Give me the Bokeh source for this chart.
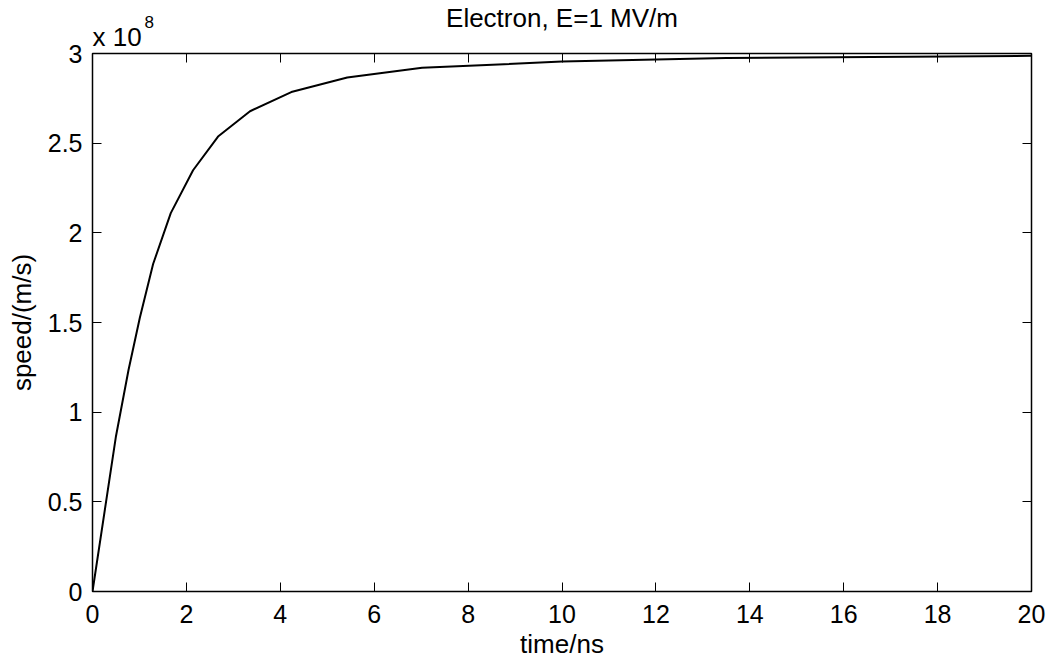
from bokeh.plotting import figure
from bokeh.models import LinearAxis, FixedTicker, CustomJSTickFormatter, Range1d, Title
from bokeh.embed import file_html
from bokeh.resources import INLINE

# Data
time_ns = [0.0, 0.50, 0.766, 1.007, 1.291, 1.667, 2.142, 2.674, 3.355, 4.234, 5.426, 7.02, 10.0, 13.5, 20.0]
speed_1e8_ms = [0.0, 0.866, 1.234, 1.525, 1.826, 2.110, 2.349, 2.537, 2.678, 2.785, 2.866, 2.92, 2.955, 2.975, 2.987]

x_ticks = [0, 2, 4, 6, 8, 10, 12, 14, 16, 18, 20]
y_ticks = [0, 0.5, 1, 1.5, 2, 2.5, 3]

title_text = "Electron, E=1 MV/m"
x_label = "time/ns"
y_label = "speed/(m/s)"
exponent_base = "x 10"
exponent_power = "8"

FONT = "Liberation Sans"
FS = "26px"
TICK_FS = "25px"

p = figure(width=1054, height=661, output_backend="svg", toolbar_location=None,
           title=None,
           x_range=Range1d(0, 20), y_range=Range1d(0, 3),
           x_axis_location=None, y_axis_location=None,
           min_border_left=92, min_border_right=23, min_border_top=53, min_border_bottom=70)
for g in p.grid:
    g.visible = False
p.background_fill_color = "white"
p.border_fill_color = "white"
p.outline_line_color = "black"
p.outline_line_width = 1.5

fmt = CustomJSTickFormatter(code="return tick.toString();")
empty_fmt = CustomJSTickFormatter(code="return '';")


def make_axis(ticks, show_labels, label=None, label_standoff=2, tick_standoff=10):
    ax = LinearAxis(ticker=FixedTicker(ticks=ticks),
                    formatter=fmt if show_labels else empty_fmt,
                    major_tick_in=9, major_tick_out=0,
                    minor_tick_line_color=None,
                    axis_line_color=None,
                    major_tick_line_color="black", major_tick_line_width=1,
                    major_label_text_font=FONT,
                    major_label_text_font_size=TICK_FS if show_labels else "0px",
                    major_label_text_color="black",
                    major_label_standoff=tick_standoff if show_labels else 0)
    if label:
        ax.axis_label = label
        ax.axis_label_text_font = FONT
        ax.axis_label_text_font_size = FS
        ax.axis_label_text_font_style = "normal"
        ax.axis_label_text_color = "black"
        ax.axis_label_standoff = label_standoff
    return ax


p.add_layout(make_axis(x_ticks, True, x_label, label_standoff=3, tick_standoff=13), "below")
p.add_layout(make_axis(y_ticks, True, y_label, label_standoff=8, tick_standoff=10), "left")
p.add_layout(make_axis(x_ticks, False), "above")
p.add_layout(make_axis(y_ticks, False), "right")

p.add_layout(Title(text=exponent_base, align="left", text_font=FONT, text_font_size=FS,
                   text_font_style="normal", text_color="black", standoff=4), "above")
p.add_layout(Title(text=exponent_power, align="left", offset=52, text_font=FONT,
                   text_font_size="17px", text_font_style="normal", text_color="black",
                   standoff=-20), "above")
p.add_layout(Title(text=title_text, align="center", text_font=FONT, text_font_size=FS,
                   text_font_style="normal", text_color="black", standoff=-31), "above")

p.line(time_ns, speed_1e8_ms, line_color="black", line_width=2)

open("out.html", "w").write(file_html(p, INLINE))
